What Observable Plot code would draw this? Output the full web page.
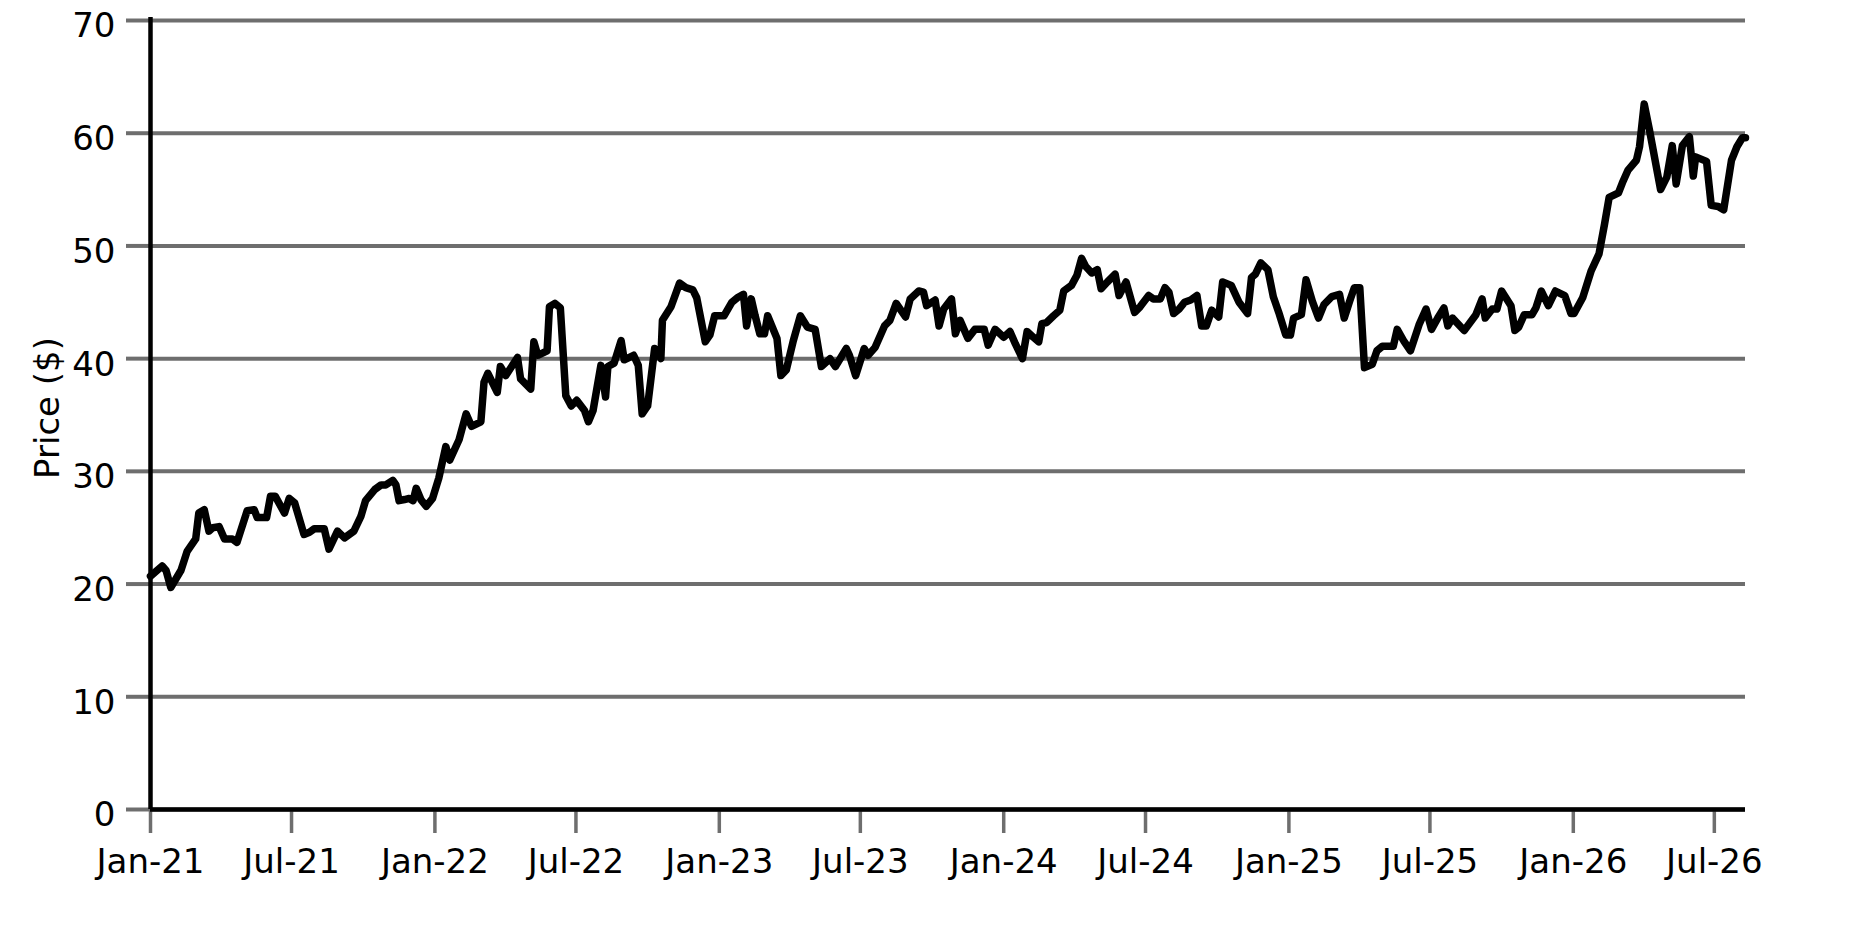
<!DOCTYPE html>
<html>
<head>
<meta charset="utf-8">
<script src="https://cdn.jsdelivr.net/npm/d3@7"></script>
<script src="https://cdn.jsdelivr.net/npm/@observablehq/plot@0.6"></script>
<style>
  html, body { margin: 0; padding: 0; background: #fff; }
  #chart { width: 1875px; height: 938px; }
</style>
</head>
<body>
<div id="chart"></div>
<script>
// Week offsets (since 2021-01-01) and prices
const startDate = "2021-01-01";
const weeks = [
  0, 2.1, 2.9, 3.7, 5.5, 6.7, 8.3, 8.9, 9.8, 10.7, 11.4, 12.6, 13.5, 15.0, 15.9, 17.7, 19.0, 19.6, 21.3, 22.0,
  22.9, 24.5, 25.4, 26.4, 28.2, 29.1, 30.0, 31.8, 32.7, 34.3, 35.5, 37.3, 38.5, 39.4, 41.1, 42.3, 43.2, 44.4, 45.0, 45.6,
  46.5, 47.4, 48.1, 48.7, 49.6, 50.5, 51.7,
  52.9, 54.1, 54.9, 56.6, 57.9, 58.8, 60.5, 61.1, 61.8, 63.5, 64.1, 65.2, 67.3, 67.9, 69.7, 70.3, 71.0, 72.7, 73.2, 74.2,
  75.2, 76.2, 77.1, 78.1, 79.6, 80.3, 81.1, 82.6, 83.4, 83.9, 85.0, 86.3, 86.9, 88.6, 89.4, 90.2, 91.2, 92.4, 93.5, 93.8,
  95.4, 97.0, 98.2, 99.4, 100.2,
  101.7, 102.5, 103.4, 105.2, 106.5, 107.5, 108.7, 109.3, 110.1, 110.8, 111.7, 112.6, 113.2, 114.8, 115.5, 116.6, 117.8,
  119.2, 120.4, 121.8, 123.0, 124.6, 125.5, 127.6, 128.2, 129.3, 130.8, 131.6, 132.8, 134.6, 135.5, 136.7, 138.4, 139.3,
  140.8, 141.7, 142.3, 143.8, 144.6, 145.4, 146.9, 147.6, 148.4, 149.8, 151.1, 152.8,
  153.6, 154.9, 156.4, 157.6, 158.5, 159.8, 160.7, 161.9, 162.8, 163.4, 164.3, 165.5, 166.7, 167.4, 168.9, 169.8, 170.7,
  171.4, 172.6, 173.5, 174.3, 175.4, 176.9, 177.5, 178.8, 180.4, 181.4, 183.0, 183.9, 185.1, 186.0, 186.7, 187.5, 188.6,
  189.5, 190.7, 191.9, 192.7, 193.5, 194.6, 195.9, 196.6, 198.1, 199.5, 201.2, 201.8, 202.5, 203.5, 204.8, 205.9,
  206.9, 208.1, 209.0, 209.6, 211.0, 211.9, 213.0, 214.2, 215.1, 216.6, 218.0, 218.8, 219.9, 220.7, 221.7, 222.5, 224.0,
  224.9, 225.9, 227.8, 228.6, 229.8, 231.0, 232.5, 233.8, 234.9, 236.0, 237.2, 237.8, 238.7, 240.9, 243.0, 244.1, 244.7,
  246.0, 246.9, 247.7, 249.4, 250.2, 250.9, 251.9, 253.3, 254.0, 255.0, 256.3, 257.6, 259.3, 260.4, 261.0, 262.5, 264.1,
  265.6, 266.5, 267.4, 269.2, 269.8, 270.9, 272.4, 273.0, 273.9, 274.8, 276.9, 278.0, 279.0, 279.7, 280.9, 282.1, 282.9,
  283.3, 285.3, 286.2, 287.4, 288.4, 289.8, 290.9, 291.8, 292.4
];
const prices = [
  20.7, 21.6, 21.2, 19.7, 21.2, 22.9, 24.0, 26.3, 26.6, 24.7, 25.0, 25.1, 24.0, 24.0, 23.7, 26.5, 26.6, 25.9, 25.9, 27.8,
  27.8, 26.3, 27.6, 27.2, 24.4, 24.6, 24.9, 24.9, 23.1, 24.7, 24.1, 24.7, 26.0, 27.4, 28.4, 28.8, 28.8, 29.2, 28.8, 27.4,
  27.5, 27.6, 27.4, 28.5, 27.5, 26.9, 27.6,
  29.4, 32.2, 31.0, 32.8, 35.1, 34.0, 34.4, 37.9, 38.7, 37.0, 39.3, 38.5, 40.1, 38.2, 37.3, 41.5, 40.3, 40.7, 44.6, 44.9,
  44.5, 36.7, 35.8, 36.3, 35.4, 34.4, 35.4, 39.4, 36.6, 39.3, 39.6, 41.6, 39.9, 40.3, 39.4, 35.1, 35.8, 40.9, 40.0, 43.4,
  44.6, 46.7, 46.3, 46.1, 45.4,
  41.5, 42.1, 43.8, 43.8, 45.0, 45.4, 45.7, 42.9, 45.3, 43.8, 42.2, 42.2, 43.8, 41.8, 38.5, 39.0, 41.6,
  43.8, 42.8, 42.6, 39.3, 40.0, 39.3, 40.9, 40.3, 38.5, 40.9, 40.3, 41.0, 42.9, 43.4, 44.9, 43.7, 45.3,
  46.0, 45.9, 44.7, 45.2, 42.9, 44.4, 45.3, 42.2, 43.4, 41.8, 42.6, 42.6,
  41.2, 42.6, 41.9, 42.4, 41.3, 40.0, 42.4, 41.9, 41.5, 43.1, 43.2, 43.8, 44.3, 46.0, 46.5, 47.4, 48.9,
  48.2, 47.6, 47.9, 46.2, 46.8, 47.5, 45.6, 46.8, 44.1, 44.6, 45.6, 45.3, 45.3, 46.3, 45.9, 44.0, 44.4,
  45.0, 45.2, 45.6, 42.9, 42.9, 44.3, 43.7, 46.8, 46.5, 45.0, 44.0, 47.2, 47.5, 48.5, 47.9, 45.5,
  44.1, 42.1, 42.1, 43.6, 43.9, 47.0, 45.1, 43.6, 44.8, 45.5, 45.7, 43.6, 45.1, 46.3, 46.3, 39.2, 39.5,
  40.7, 41.1, 41.1, 42.6, 41.5, 40.7, 43.0, 44.4, 42.6, 43.6, 44.5, 42.9, 43.6, 42.5, 43.9, 45.3, 43.6,
  44.4, 44.4, 46.0, 44.7, 42.5, 42.8, 43.9, 43.9, 44.5, 46.0, 44.7, 46.0, 45.6, 44.0, 44.0, 45.4, 47.8,
  49.3, 51.9, 54.3, 54.7, 55.6, 56.7, 57.6, 58.8, 62.6, 60.2, 55.0, 56.1, 58.9, 55.5, 58.9, 59.7, 56.2,
  57.9, 57.5, 53.6, 53.5, 53.2, 57.6, 58.8, 59.6, 59.6
];
const yTicks = [0, 10, 20, 30, 40, 50, 60, 70];
const xTickInterval = "6 months";
const xTickFormat = "%b-%y";
const yLabel = "Price ($)";

const t0 = Date.parse(startDate + "T00:00:00Z");
const DAY = 86400000;
const data = weeks.map((w, i) => ({ date: new Date(t0 + Math.round(w * 7) * DAY), price: prices[i] }));

const gridColor = "#6e6e6e";

const chart = Plot.plot({
  width: 1875,
  height: 938,
  marginTop: 20,
  marginBottom: 129,
  marginLeft: 150,
  marginRight: 130,
  style: { fontFamily: "'DejaVu Sans', sans-serif", fontSize: "34px", color: "#000", background: "#fff", overflow: "visible" },
  x: { type: "utc", label: null },
  y: { domain: [0, 70], label: null },
  marks: [
    Plot.gridY(yTicks, { stroke: gridColor, strokeOpacity: 1, strokeWidth: 4 }),
    Plot.axisY(yTicks, { tickSize: 24, stroke: gridColor, strokeOpacity: 1, strokeWidth: 4, tickFormat: () => "", label: null }),
    Plot.axisY(yTicks, { tickSize: 0, tickPadding: 35, dy: 6, fill: "#000", fontSize: 34, label: null }),
    Plot.axisX({ ticks: xTickInterval, tickSize: 24, tickPadding: 15, stroke: gridColor, strokeOpacity: 1, strokeWidth: 3.5, tickFormat: xTickFormat, fill: "#000", fontSize: 34, label: null }),
    Plot.ruleY([0], { stroke: "#000", strokeWidth: 4.5 }),
    Plot.ruleX([data[0].date], { stroke: "#000", strokeWidth: 4.5, insetTop: -3 }),
    Plot.lineY(data, { x: "date", y: "price", stroke: "#000", strokeWidth: 7.5, strokeLinejoin: "round", strokeLinecap: "round" }),
    Plot.text([yLabel], { text: d => d, frameAnchor: "left", textAnchor: "middle", rotate: -90, dx: -102, dy: -7, fontSize: 34, lineAnchor: "middle", fill: "#000" })
  ]
});
document.getElementById("chart").appendChild(chart);
</script>
</body>
</html>
